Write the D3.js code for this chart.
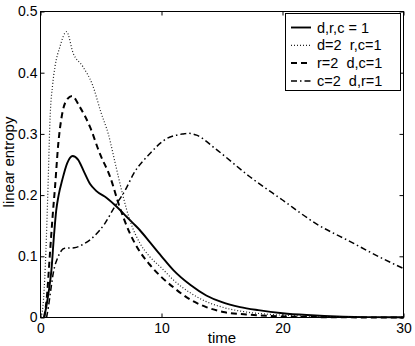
<!DOCTYPE html>
<html>
<head>
<meta charset="utf-8">
<script src="https://cdn.jsdelivr.net/npm/d3@7"></script>
<style>
  body { margin: 0; background: #fff; }
  svg text { font-family: "Liberation Sans", Arial, sans-serif; white-space: pre; }
</style>
</head>
<body>
<svg id="chart"></svg>
<script>
const width = 415,
    height = 346;
const margin = { top: 11.5, right: 11.5, bottom: 28.5, left: 40.5 };

// series values (time, linear entropy)
const tUniform = [0.3, 0.5, 0.7, 0.9, 1.1, 1.3, 1.5, 1.8, 2.2, 2.65, 3.1, 3.6, 4.1, 4.6, 5.5, 6.3, 7.0, 7.6, 8.2, 9.0, 10, 11, 12.4, 13.7, 15, 16.5, 18, 20, 22, 25, 30];
const vUniform = [0, 0.02, 0.045, 0.077, 0.13, 0.175, 0.2, 0.225, 0.252, 0.264, 0.258, 0.238, 0.218, 0.207, 0.195, 0.181, 0.167, 0.155, 0.143, 0.124, 0.1, 0.077, 0.053, 0.036, 0.025, 0.017, 0.012, 0.007, 0.004, 0.0015, 0.0003];

const tD2 = [0.05, 0.25, 0.45, 0.6, 0.8, 1.0, 1.2, 1.6, 2.15, 2.7, 3.5, 4.3, 5.0, 5.6, 6.2, 6.8, 7.4, 8.2, 9.0, 10, 11, 12.4, 13.7, 15, 17, 19, 21, 24, 30];
const vD2 = [0, 0.03, 0.11, 0.2, 0.33, 0.38, 0.41, 0.442, 0.467, 0.432, 0.41, 0.38, 0.335, 0.3, 0.25, 0.2, 0.158, 0.122, 0.1, 0.081, 0.061, 0.04, 0.026, 0.017, 0.009, 0.005, 0.003, 0.001, 0.0002];

const tR2 = [0.3, 0.5, 0.8, 1.0, 1.2, 1.47, 1.75, 2.15, 2.6, 3.25, 4.1, 4.9, 5.75, 6.55, 7.4, 8.2, 9.0, 10, 11, 12.4, 13.7, 15.1, 17, 19, 21, 25, 30];
const vR2 = [0, 0.028, 0.11, 0.165, 0.213, 0.284, 0.328, 0.355, 0.362, 0.344, 0.311, 0.268, 0.23, 0.18, 0.137, 0.108, 0.087, 0.066, 0.049, 0.029, 0.017, 0.009, 0.005, 0.0025, 0.0012, 0.0003, 0];

const tC2 = [0.5, 0.65, 0.85, 1.05, 1.45, 2.0, 2.8, 3.65, 4.5, 5.3, 6.1, 7.0, 7.7, 9.05, 10.4, 11.8, 12.2, 12.9, 14.5, 17.3, 20, 22.8, 25.6, 28.3, 30];
const vC2 = [0, 0.017, 0.045, 0.072, 0.099, 0.113, 0.114, 0.121, 0.134, 0.153, 0.18, 0.208, 0.235, 0.268, 0.292, 0.3, 0.301, 0.298, 0.275, 0.23, 0.192, 0.153, 0.124, 0.096, 0.08];

const legendLabels = ["d,r,c = 1", "d=2  r,c=1", "r=2  d,c=1", "c=2  d,r=1"];
const xTicks = [0, 10, 20, 30];
const yTicks = [0, 0.1, 0.2, 0.3, 0.4, 0.5];

const series = [
    { t: tUniform, v: vUniform, dash: null, w: 1.9, stroke: "#000" },
    { t: tD2, v: vD2, dash: "1,2", w: 1.2, stroke: "#222" },
    { t: tR2, v: vR2, dash: "6,4", w: 2, stroke: "#000" },
    { t: tC2, v: vC2, dash: "6,3,1.5,3", w: 1.5, stroke: "#000" },
];

const svg = d3.select("svg#chart")
    .attr("width", width)
    .attr("height", height);

const x = d3.scaleLinear().domain([0, 30]).range([margin.left, width - margin.right]);
const y = d3.scaleLinear().domain([0, 0.5]).range([height - margin.bottom, margin.top]);

const line = d3.line()
    .x(d => x(d[0]))
    .y(d => y(d[1]))
    .curve(d3.curveMonotoneX);

const plot = svg.append("g");
series.forEach(s => {
    plot.append("path")
        .datum(d3.zip(s.t, s.v))
        .attr("d", line)
        .attr("fill", "none")
        .attr("stroke", s.stroke)
        .attr("stroke-width", s.w)
        .attr("stroke-dasharray", s.dash);
});

// axes, ticks point inward
const fmt = d => d === 0 ? "0" : d3.format("")(d);
const axisStyle = g => {
    g.select(".domain").remove();
    g.selectAll("line").attr("stroke", "#000");
    g.selectAll("text").attr("font-size", 14).attr("fill", "#000");
};
svg.append("g")
    .attr("transform", `translate(0,${y(0)})`)
    .call(d3.axisBottom(x).tickValues(xTicks).tickSize(-4).tickPadding(6).tickFormat(fmt))
    .call(axisStyle);
svg.append("g")
    .attr("transform", `translate(0,${y(0.5)})`)
    .call(d3.axisTop(x).tickValues(xTicks).tickSize(-4).tickFormat(""))
    .call(axisStyle);
svg.append("g")
    .attr("transform", `translate(${x(0)},0)`)
    .call(d3.axisLeft(y).tickValues(yTicks).tickSize(-4).tickPadding(3).tickFormat(fmt))
    .call(axisStyle);
svg.append("g")
    .attr("transform", `translate(${x(30)},0)`)
    .call(d3.axisRight(y).tickValues(yTicks).tickSize(-4).tickFormat(""))
    .call(axisStyle);

svg.append("rect")
    .attr("x", x(0))
    .attr("y", y(0.5))
    .attr("width", x(30) - x(0))
    .attr("height", y(0) - y(0.5))
    .attr("fill", "none")
    .attr("stroke", "#000")
    .attr("stroke-width", 1);

svg.append("text")
    .attr("x", (x(0) + x(30)) / 2)
    .attr("y", 343)
    .attr("text-anchor", "middle")
    .attr("font-size", 15)
    .text("time");

svg.append("text")
    .attr("transform", "translate(14,162) rotate(-90)")
    .attr("text-anchor", "middle")
    .attr("font-size", 15)
    .text("linear entropy");

// legend
const legend = svg.append("g");
legend.append("rect")
    .attr("x", 285.5)
    .attr("y", 13.5)
    .attr("width", 115)
    .attr("height", 77)
    .attr("fill", "#fff")
    .attr("stroke", "#000")
    .attr("stroke-width", 1);
const rows = legend.selectAll("g.row")
    .data(series)
    .enter()
    .append("g")
    .attr("class", "row")
    .attr("transform", (d, i) => `translate(0,${27.5 + i * 17.8})`);
rows.append("line")
    .attr("x1", 291)
    .attr("x2", 311)
    .attr("stroke", d => d.stroke)
    .attr("stroke-width", d => d.w)
    .attr("stroke-dasharray", d => d.dash);
rows.append("text")
    .attr("x", 317)
    .attr("dy", "0.35em")
    .attr("font-size", 14.5)
    .text((d, i) => legendLabels[i]);
</script>
</body>
</html>
